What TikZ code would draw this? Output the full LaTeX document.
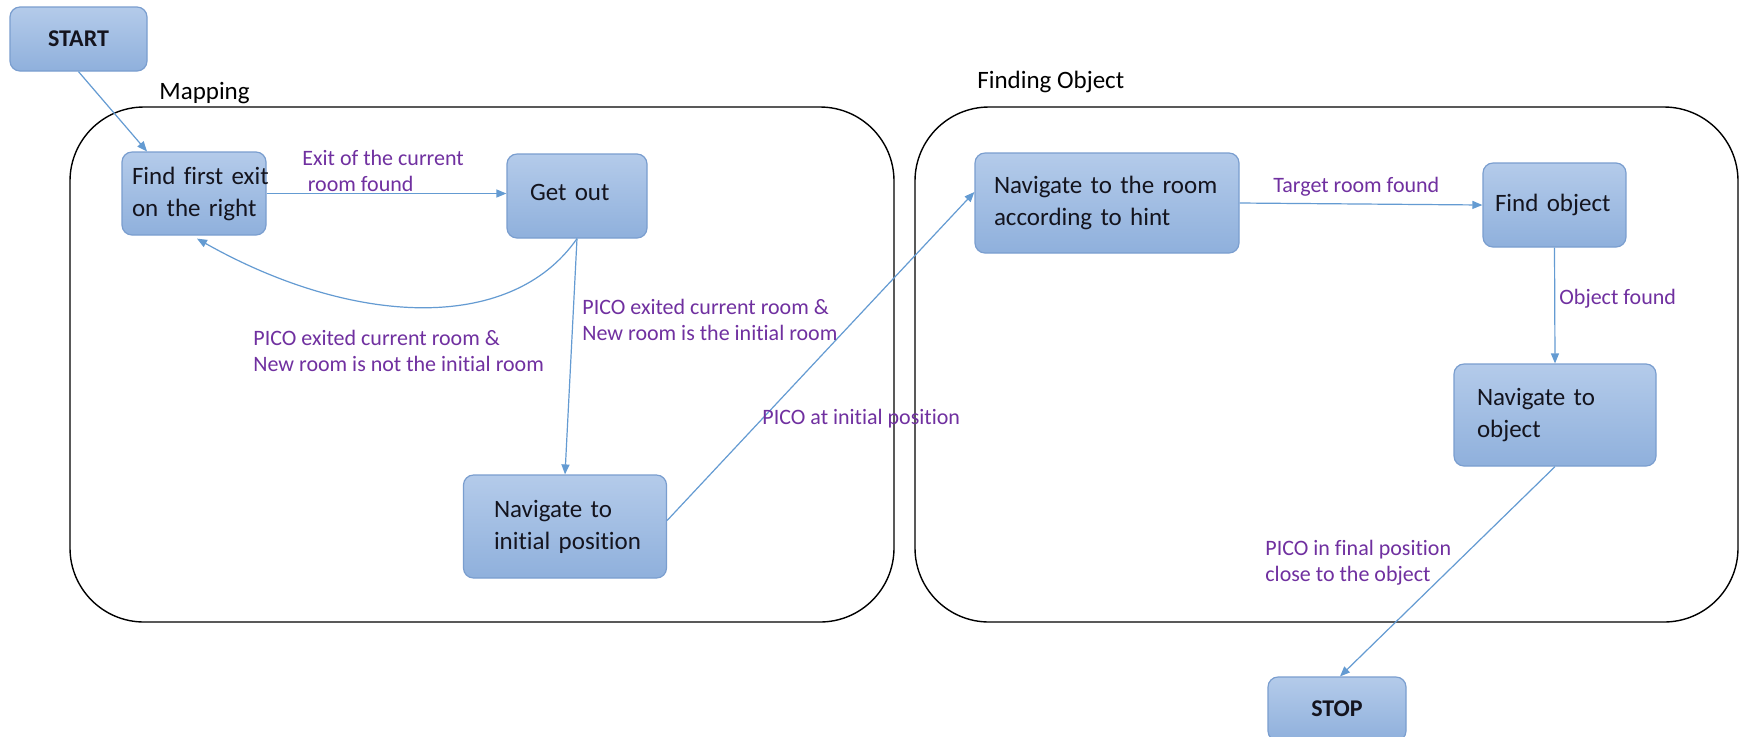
\documentclass[tikz,border=0pt]{standalone}
\usepackage{fontspec}
\setmainfont{Carlito}[Ligatures={CommonOff}]
\usetikzlibrary{arrows.meta,calc}
\definecolor{boxtop}{RGB}{180,203,234}
\definecolor{boxbot}{RGB}{143,176,220}
\definecolor{boxline}{RGB}{122,158,207}
\definecolor{arr}{RGB}{100,155,210}
\definecolor{lbl}{RGB}{112,48,160}
\definecolor{ink}{RGB}{20,20,30}
\begin{document}
\begin{tikzpicture}[x=0.5pt,y=-0.5pt,
  state/.style={draw=boxline, line width=0.6pt, rounded corners=5pt, top color=boxtop, bottom color=boxbot, text=ink, font=\fontsize{12.5}{16}\selectfont, align=left, inner ysep=0pt},
  term/.style={state, font=\fontsize{12}{14}\selectfont\bfseries, align=center},
  conn/.style={draw=arr, line width=0.6pt, -{Triangle[length=5pt,width=4pt]}},
  lab/.style={text=lbl, font=\fontsize{11}{13}\selectfont, align=left, anchor=west, inner sep=0pt},
  group/.style={draw=black, line width=0.7pt, rounded corners=37pt},
  title/.style={font=\fontsize{12.5}{15}\selectfont, anchor=west, inner sep=0pt}]

\useasboundingbox (0,0) rectangle (1741,736);
\fill[white] (0,0) rectangle (1741,736);

\draw[group] (70,107) rectangle (894,622);
\draw[group] (915,107) rectangle (1738,622);

\node[title] (t1) at (159,93) {Mapping};
\node[title] (t2) at (977,82) {Finding Object};

\node[term, minimum width=68.5pt, minimum height=32pt] (start) at (78.5,39) {START};
\node[state, text width=62pt, inner xsep=5pt, minimum height=41.5pt] (find) at (194,193.5) {\mbox{Find first exit}\\\mbox{on the right}};
\node[state, text width=47pt, inner xsep=11.5pt, minimum height=42pt] (getout) at (577,196) {\raisebox{4pt}{\mbox{Get out}}};
\node[state, text width=71pt, inner xsep=15.25pt, minimum height=51.5pt] (navinit) at (565,526.5) {\mbox{Navigate to}\\\mbox{initial position}};
\node[state, text width=113pt, inner xsep=9.5pt, minimum height=50pt] (navroom) at (1107,203) {\mbox{Navigate to the room}\\\mbox{according to hint}};
\node[state, text width=59.5pt, inner xsep=6pt, minimum height=42pt] (findobj) at (1554.5,205) {\mbox{Find object}};
\node[state, text width=78pt, inner xsep=11.5pt, minimum height=51pt] (navobj) at (1555,415) {\mbox{Navigate to}\\\mbox{object}};
\node[term, minimum width=69pt, minimum height=32pt] (stop) at (1337,709) {STOP};

\draw[conn] (start.south) -- ([xshift=-23.5pt]find.north);
\draw[conn] (find.east) -- (find.east -| getout.west);
\draw[conn] (getout.south) .. controls (510,335) and (350,325) .. ([xshift=1.5pt,yshift=-1.5pt]find.south);
\draw[conn] (getout.south) -- (navinit.north);
\draw[conn] ([yshift=3pt]navinit.east) -- ([yshift=5.5pt]navroom.west);
\draw[conn] (navroom.east) -- (findobj.west);
\draw[conn] (findobj.south) -- (navobj.north);
\draw[conn] (navobj.south) -- ([xshift=1.5pt]stop.north);

\node[lab] (l1) at (302,170.5) {Exit of the current\\\hspace{0.25em}room found};
\node[lab] (l2) at (253,350.5) {PICO exited current room \&\\New room is not the initial room};
\node[lab] (l3) at (582,320) {PICO exited current room \&\\New room is the initial room};
\node[lab] (l4) at (762,419) {PICO at initial position};
\node[lab] (l5) at (1273,187) {Target room found};
\node[lab] (l6) at (1559,299) {Object found};
\node[lab] (l7) at (1265,562.5) {PICO in final position\\close to the object};
\end{tikzpicture}
\end{document}
